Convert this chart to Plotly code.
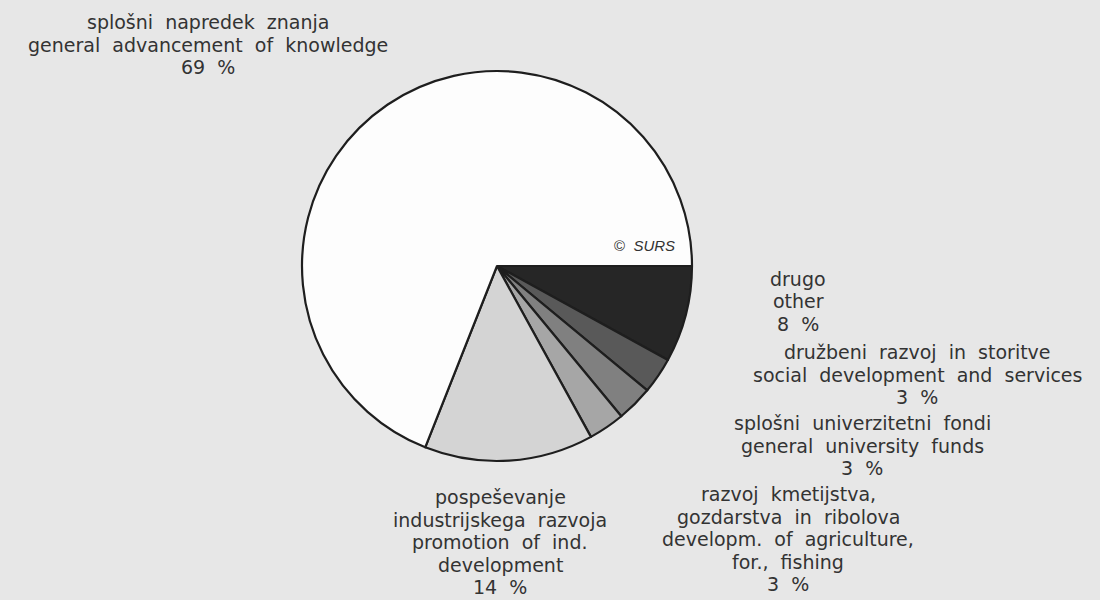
import plotly.graph_objects as go

# slices clockwise from 3 o'clock
categories = [
    ["drugo", "other"],
    ["družbeni razvoj in storitve", "social development and services"],
    ["splošni univerzitetni fondi", "general university funds"],
    ["razvoj kmetijstva,", "gozdarstva in ribolova", "developm. of agriculture,", "for., fishing"],
    ["pospeševanje", "industrijskega razvoja", "promotion of ind.", "development"],
    ["splošni napredek znanja", "general advancement of knowledge"],
]
shares = [8, 3, 3, 3, 14, 69]
colors = ["#262626", "#595959", "#808080", "#a6a6a6", "#d4d4d4", "#fdfdfd"]

W, H = 1100, 600
BG = "#e7e7e7"
INK = "#333333"
FONT = "DejaVu Sans, Liberation Sans, Arial, sans-serif"
STEP = 22.5

# label placement in pixels: centre x, first line y
label_pos = [
    (798, 279),
    (917, 352),
    (862, 423),
    (788, 494),
    (500, 497),
    (208, 22),
]

fig = go.Figure()
fig.add_trace(go.Pie(
    labels=[c[-1] for c in categories],
    values=shares,
    sort=False,
    direction="clockwise",
    rotation=90,
    textinfo="none",
    hoverinfo="none",
    showlegend=False,
    marker=dict(colors=colors, line=dict(color="#1e1e1e", width=2.2)),
    domain=dict(x=[(497 - 196) / W, (497 + 196) / W],
                y=[(H - 266 - 195) / H, (H - 266 + 195) / H]),
))

annotations = []
for lines, val, (cx, y0) in zip(categories, shares, label_pos):
    for i, line in enumerate(lines + [f"{val} %"]):
        annotations.append(dict(
            x=cx / W, y=1 - (y0 + i * STEP) / H, xref="paper", yref="paper",
            text=line.replace(" ", "  "), showarrow=False,
            xanchor="center", yanchor="middle",
            font=dict(family=FONT, size=19, color=INK),
        ))

annotations.append(dict(
    x=644 / W, y=1 - 246 / H, xref="paper", yref="paper",
    text="©  <i>SURS</i>", showarrow=False, xanchor="center", yanchor="middle",
    font=dict(family="Liberation Sans, Arial, sans-serif", size=15, color=INK),
))

fig.update_layout(
    width=W, height=H,
    margin=dict(l=0, r=0, t=0, b=0),
    paper_bgcolor=BG, plot_bgcolor=BG,
    annotations=annotations,
)

fig.write_html("out.html", config={"displayModeBar": False},
               post_script="document.body.style.margin='0';")
